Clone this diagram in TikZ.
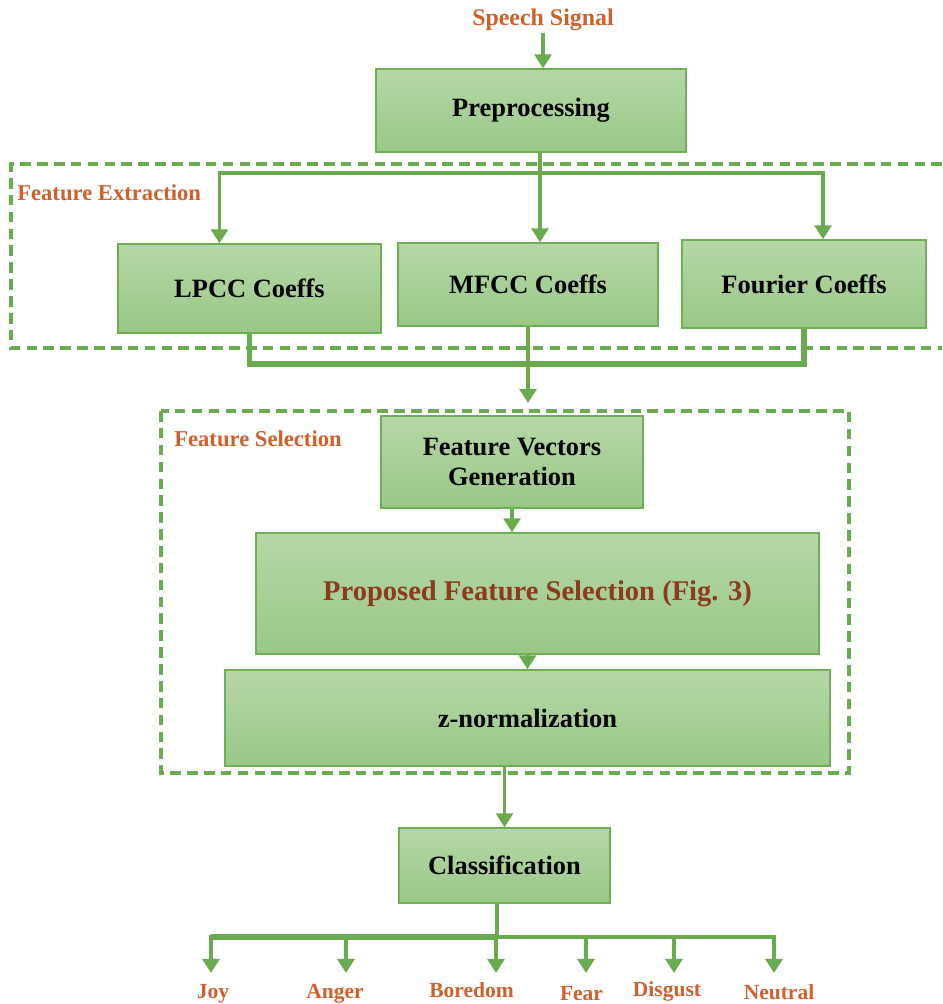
\documentclass[tikz,border=0pt]{standalone}
\usepackage{fontspec}
\setmainfont{Liberation Serif}
\usepackage{tikz}
\usetikzlibrary{
  arrows.meta,
  positioning,
  calc,
}
\definecolor{boxtop}{RGB}{182,215,167}
\definecolor{boxbottom}{RGB}{153,200,134}
\definecolor{boxedge}{RGB}{112,176,84}
\definecolor{flowgreen}{RGB}{106,171,79}
\definecolor{tagorange}{RGB}{208,96,44}
\definecolor{pfsbrown}{RGB}{140,60,28}
\tikzset{
  stagebox/.style={
    rectangle, draw=boxedge, line width=0.9pt,
    top color=boxtop, bottom color=boxbottom,
    inner sep=2pt, align=center, text=black,
    font=\bfseries\fontsize{18.8}{21.5}\selectfont
  },
  groupbox/.style={draw=flowgreen, line width=2.2pt, dash pattern=on 7.5pt off 4.5pt},
  grouptag/.style={font=\bfseries\fontsize{16.1}{19}\selectfont, text=tagorange, anchor=base west, inner sep=0pt},
  emotext/.style={font=\bfseries\fontsize{15.3}{18}\selectfont, text=tagorange, anchor=base, inner sep=0pt},
  link/.style={line width=2.6pt, flowgreen},
  busline/.style={line width=4pt, flowgreen},
  flow/.style={line width=2.6pt, flowgreen, -{Triangle[width=12pt,length=10pt]}},
}

\begin{document}
\begin{tikzpicture}[x=0.025cm, y=-0.025cm]
  \useasboundingbox (0,0) rectangle (942,1004);

  % ── Groups ──
  \draw[groupbox] (942,164) -| (11,348) -- (942,348);
  \draw[groupbox] (161,411) rectangle (849,773);
  \node[grouptag] (fextag) at (17,201) {Feature Extraction};
  \node[grouptag] (fseltag) at (174,446) {Feature Selection};

  % ── Nodes ──
  \node[font=\bfseries\fontsize{17}{20}\selectfont, text=tagorange, inner sep=1pt] (sig) at (543,20) {Speech Signal};
  \node[stagebox, minimum width=7.75cm, minimum height=2.075cm] (pre) at (531,110.5) {Preprocessing};
  \node[stagebox, minimum width=6.575cm, minimum height=2.225cm] (lpcc) at (249.5,288.5) {LPCC Coeffs};
  \node[stagebox, minimum width=6.5cm, minimum height=2.075cm] (mfcc) at (528,284.5) {MFCC Coeffs};
  \node[stagebox, minimum width=6.1cm, minimum height=2.2cm] (fourier) at (804,284) {Fourier Coeffs};
  \node[stagebox, minimum width=6.55cm, minimum height=2.3cm] (fvg) at (512,462) {Feature Vectors\\Generation};
  \node[stagebox, minimum width=14.075cm, minimum height=3.025cm, text=pfsbrown,
        font=\bfseries\fontsize{20.3}{24}\selectfont] (pfs) at (537.5,593.5) {Proposed Feature Selection (Fig. 3)};
  \node[stagebox, minimum width=15.125cm, minimum height=2.4cm] (znorm) at (527.5,718) {z-normalization};
  \node[stagebox, minimum width=5.275cm, minimum height=1.875cm] (cls) at (504.5,865.5) {Classification};

  % ── Split and merge points ──
  \coordinate (split) at (540,173);
  \coordinate (merge) at (525,364);
  \coordinate (selin) at (528,403);
  \coordinate (hub) at (497,937);

  % ── Edges ──
  \draw[flow] (sig.south) -- (pre.north -| sig.south);
  \draw[link] (pre.south -| split) -- (split);
  \draw[flow] (split) -- (split |- mfcc.north);
  \draw[flow] (split) -| ($(lpcc.north)+(-30,0)$);
  \draw[flow] (split) -| ($(fourier.north)+(19,0)$);
  \draw[busline] (lpcc.south) |- (fourier.south |- merge) -- (fourier.south);
  \draw[flow] (mfcc.south) -- (selin);
  \draw[flow] (fvg.south) -- (fvg.south |- pfs.north);
  \draw[flow] (pfs.south -| znorm.north) -- (znorm.north);
  \draw[flow] (znorm.south -| cls.north) -- (cls.north);
  \draw[link] (cls.south -| hub) -- (hub);

  % ── Emotions ──
  \foreach \emo/\lx/\ly/\ax in {Joy/213/998/211, Anger/335/998/346, Boredom/471.5/997/496,
                                Fear/581.5/1000/586, Disgust/667/996/674, Neutral/779/999/774}{
    \coordinate (tip\emo) at (\ax,973);
    \node[emotext] (\emo) at (\lx,\ly) {\emo};
  }
  \draw[flow] (hub) -| (tipJoy);
  \draw[busline] (hub) -- (tipJoy |- hub);
  \draw[flow] (hub) -| (tipNeutral);
  \foreach \emo in {Anger,Boredom,Fear,Disgust}
    \draw[flow] (tip\emo |- hub) -- (tip\emo);

\end{tikzpicture}
\end{document}
